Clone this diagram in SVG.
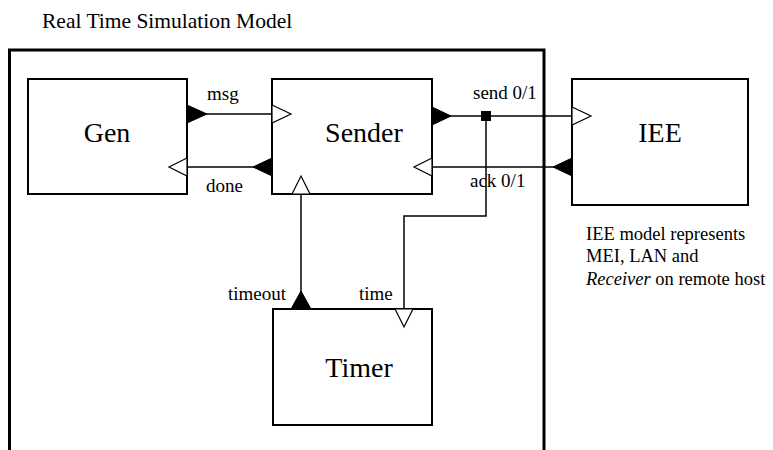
<svg xmlns="http://www.w3.org/2000/svg" width="773" height="450" viewBox="0 0 773 450">
  <style>
    text { font-family: "Liberation Serif", "Times New Roman", serif; fill: #000; }
    .box { fill: #fff; stroke: #000; stroke-width: 2; }
    .frame { fill: none; stroke: #000; stroke-width: 3; }
    .wire { fill: none; stroke: #000; stroke-width: 1.5; }
    .out { fill: #000; stroke: #000; stroke-width: 1; }
    .in { fill: #fff; stroke: #000; stroke-width: 1.2; }
    .name { font-size: 28px; text-anchor: middle; }
    .lbl { font-size: 19px; }
    .note { font-size: 18.5px; }
  </style>

  <rect width="773" height="450" fill="#fff"/>

  <text x="42" y="28" style="font-size:21.5px">Real Time Simulation Model</text>

  <!-- enclosing model frame, open at the bottom -->
  <path class="frame" d="M9.5,450 V50 H544 V450"/>

  <g id="gen">
    <rect class="box" x="28" y="79" width="159" height="115"/>
    <text class="name" x="107" y="142">Gen</text>
  </g>

  <g id="sender">
    <rect class="box" x="272" y="79" width="160" height="115"/>
    <text class="name" x="364" y="142">Sender</text>
  </g>

  <g id="iee">
    <rect class="box" x="572" y="79" width="176" height="126"/>
    <text class="name" x="660" y="142">IEE</text>
  </g>

  <g id="timer">
    <rect class="box" x="273" y="309" width="159" height="116"/>
    <text class="name" x="359" y="377">Timer</text>
  </g>

  <g id="connectors">
    <!-- msg: Gen -> Sender -->
    <line class="wire" x1="187" y1="114" x2="272" y2="114"/>
    <polygon class="out" points="187,105 207,114 187,123"/>
    <polygon class="in" points="272,105 291,114 272,123"/>
    <text class="lbl" x="207" y="100">msg</text>

    <!-- done: Sender -> Gen -->
    <line class="wire" x1="187" y1="167" x2="272" y2="167"/>
    <polygon class="out" points="272,158 253,167 272,176"/>
    <polygon class="in" points="187,158 169,167 187,176"/>
    <text class="lbl" x="206" y="192">done</text>

    <!-- send 0/1: Sender -> IEE, branched to Timer -->
    <line class="wire" x1="432" y1="116" x2="572" y2="116"/>
    <polygon class="out" points="432,107 451,116 432,125"/>
    <polygon class="in" points="572,107 591,116 572,125"/>
    <rect x="481" y="111" width="10" height="10" fill="#000"/>
    <text class="lbl" x="473" y="99">send 0/1</text>

    <!-- ack 0/1: IEE -> Sender -->
    <line class="wire" x1="432" y1="167" x2="572" y2="167"/>
    <polygon class="out" points="572,158 553,167 572,176"/>
    <polygon class="in" points="432,158 414,167 432,176"/>
    <text class="lbl" x="470" y="187">ack 0/1</text>

    <!-- time: branch down to Timer -->
    <polyline class="wire" points="486,116 486,216 404,216 404,309"/>
    <polygon class="in" points="395,309 404,327 413,309"/>
    <text class="lbl" x="359" y="300">time</text>

    <!-- timeout: Timer -> Sender -->
    <line class="wire" x1="301" y1="194" x2="301" y2="309"/>
    <polygon class="out" points="291,309 301,291 311,309"/>
    <polygon class="in" points="292,194 301,176 310,194"/>
    <text class="lbl" x="228" y="300">timeout</text>
  </g>

  <g id="iee-note" class="note">
    <text x="586" y="240">IEE model represents</text>
    <text x="586" y="262">MEI, LAN and</text>
    <text x="586" y="285"><tspan font-style="italic">Receiver</tspan> on remote host</text>
  </g>
</svg>
